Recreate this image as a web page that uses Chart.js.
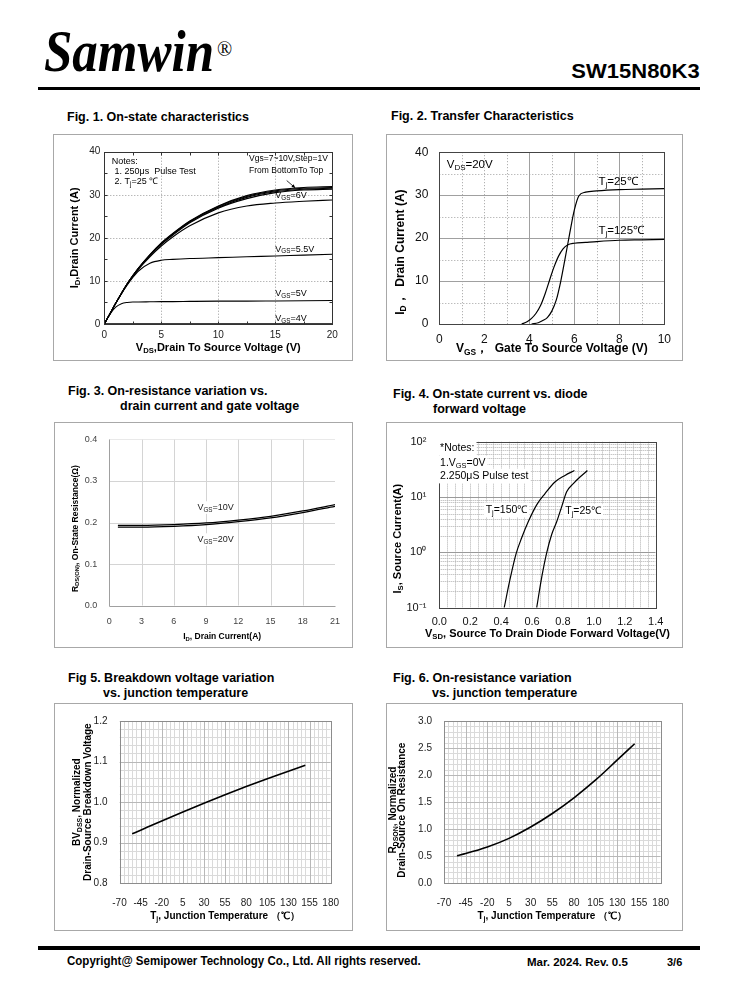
<!DOCTYPE html>
<html><head><meta charset="utf-8">
<script src="https://cdn.jsdelivr.net/npm/chart.js@4.4.0/dist/chart.umd.min.js"></script>
<style>
html,body{margin:0;padding:0;background:#fff;}
#page{position:relative;width:738px;height:1000px;overflow:hidden;font-family:"Liberation Sans",Arial,sans-serif;color:#000;background:#fff;}
.abs{position:absolute;white-space:nowrap;}
.ft{font-weight:bold;font-size:12.5px;line-height:15px;}
.frame{position:absolute;border:1px solid #a8a8a8;box-sizing:border-box;}
canvas{position:absolute;}
</style></head><body>
<div id="page">
  <div class="abs" style="left:44px;top:30px;font-family:'Liberation Serif','Times New Roman',serif;font-weight:bold;font-style:italic;font-size:51px;line-height:51px;transform:scale(1.0,1.16);transform-origin:0 100%;">Samwin</div>
  <div class="abs" style="left:217px;top:39px;font-family:'Liberation Serif','Times New Roman',serif;font-size:20px;line-height:20px;">®</div>
  <div class="abs" style="right:38px;top:60px;font-weight:bold;font-size:20px;line-height:22px;transform:scale(1.1,1.05);transform-origin:100% 50%;">SW15N80K3</div>
  <div class="abs" style="left:38px;top:87px;width:662px;height:3px;background:#000;"></div>

  <div class="abs ft" style="left:67px;top:110px;">Fig. 1. On-state characteristics</div>
  <div class="abs ft" style="left:391px;top:109px;">Fig. 2. Transfer Characteristics</div>
  <div class="abs ft" style="left:68px;top:384px;">Fig. 3. On-resistance variation vs.</div>
  <div class="abs ft" style="left:120px;top:399px;">drain current and gate voltage</div>
  <div class="abs ft" style="left:393px;top:387px;">Fig. 4. On-state current vs. diode</div>
  <div class="abs ft" style="left:433px;top:402px;">forward voltage</div>
  <div class="abs ft" style="left:68px;top:671px;">Fig 5. Breakdown voltage variation</div>
  <div class="abs ft" style="left:103px;top:686px;">vs. junction temperature</div>
  <div class="abs ft" style="left:393px;top:671px;">Fig. 6. On-resistance variation</div>
  <div class="abs ft" style="left:432px;top:686px;">vs. junction temperature</div>

  <div class="frame" style="left:53px;top:134px;width:300px;height:227px;"></div>
  <div class="frame" style="left:386px;top:134px;width:297px;height:227px;"></div>
  <div class="frame" style="left:54px;top:422px;width:299px;height:226px;"></div>
  <div class="frame" style="left:386px;top:422px;width:297px;height:226px;"></div>
  <div class="frame" style="left:54px;top:703px;width:299px;height:228px;"></div>
  <div class="frame" style="left:386px;top:703px;width:297px;height:228px;"></div>
  <canvas id="c1"></canvas><canvas id="c2"></canvas><canvas id="c3"></canvas>
  <canvas id="c4"></canvas><canvas id="c5"></canvas><canvas id="c6"></canvas>

  <div class="abs" style="left:38px;top:946px;width:662px;height:4px;background:#000;"></div>
  <div class="abs" style="left:67px;top:954px;font-weight:bold;font-size:12px;line-height:14px;transform:scaleX(0.96);transform-origin:0 50%;">Copyright@ Semipower Technology Co., Ltd. All rights reserved.</div>
  <div class="abs" style="left:527px;top:955px;font-weight:bold;font-size:11.5px;line-height:14px;">Mar. 2024. Rev. 0.5</div>
  <div class="abs" style="left:667px;top:955px;font-weight:bold;font-size:11px;line-height:14px;">3/6</div>
</div>
<script>
// ================= DATA =================
// Fig.1 On-state characteristics
const fig1_vds = [0,0.5,1,1.5,2,2.5,3,4,5,6,7.5,10,12.5,15,17.5,20];
const fig1_id_vgs10 = [0,2.4,4.8,7.1,9.3,11.2,13.0,16.1,18.8,21.0,23.9,27.4,29.8,31.1,31.7,31.9];
const fig1_id_vgs9  = [0,2.4,4.8,7.1,9.3,11.2,13.0,16.0,18.7,20.9,23.8,27.3,29.6,30.9,31.5,31.7];
const fig1_id_vgs8  = [0,2.4,4.8,7.1,9.3,11.2,12.9,16.0,18.6,20.8,23.7,27.1,29.4,30.7,31.3,31.5];
const fig1_id_vgs7  = [0,2.4,4.8,7.1,9.3,11.1,12.9,15.9,18.5,20.6,23.5,26.9,29.1,30.5,31.1,31.3];
const fig1_id_vgs6  = [0,2.4,4.8,7.1,9.2,11.0,12.7,15.6,18.1,20.2,22.8,25.8,27.4,28.1,28.5,28.8];
const fig1_id_vgs55 = [0,2.4,4.8,7.0,9.0,10.8,12.3,14.1,14.8,15.0,15.2,15.4,15.6,15.8,16.0,16.2];
const fig1_id_vgs5  = [0,2.3,3.9,4.7,5.0,5.1,5.1,5.15,5.2,5.2,5.25,5.3,5.3,5.35,5.4,5.45];
const fig1_id_vgs4  = [0,0.05,0.05,0.05,0.05,0.05,0.05,0.05,0.05,0.05,0.05,0.05,0.05,0.05,0.05,0.05];
const fig1_xticks = [0,5,10,15,20];
const fig1_xlabels = ['0','5','10','15','20'];
const fig1_yticks = [0,10,20,30,40];
const fig1_ylabels = ['0','10','20','30','40'];

// Fig.2 Transfer characteristics
const fig2_vgs_t25 = [4.1,4.4,4.6,4.8,5.0,5.2,5.4,5.6,5.8,6.0,6.2,6.5,7,8,9,10];
const fig2_id_t25  = [0,0.3,0.8,1.5,3.0,5.6,10.0,15.5,21.2,26.5,29.8,30.7,31.0,31.3,31.4,31.5];
const fig2_vgs_t125 = [3.66,3.9,4.1,4.3,4.5,4.7,4.9,5.1,5.3,5.5,5.7,6.0,6.5,7,8,9,10];
const fig2_id_t125  = [0,0.5,1.3,2.5,4.3,7.0,10.2,13.3,15.8,17.5,18.4,18.8,19.0,19.2,19.5,19.6,19.7];
const fig2_xticks = [0,2,4,6,8,10];
const fig2_xlabels = ['0','2','4','6','8','10'];
const fig2_yticks = [0,10,20,30,40];
const fig2_ylabels = ['0','10','20','30','40'];

// Fig.3 On-resistance vs drain current
const fig3_id = [0.8,3,6,9,12,15,18,21];
const fig3_r_vgs10 = [0.193,0.193,0.195,0.199,0.206,0.215,0.228,0.243];
const fig3_r_vgs20 = [0.189,0.189,0.191,0.195,0.202,0.211,0.224,0.239];
const fig3_xticks = [0,3,6,9,12,15,18,21];
const fig3_xlabels = ['0','3','6','9','12','15','18','21'];
const fig3_yticks = [0,0.1,0.2,0.3,0.4];
const fig3_ylabels = ['0.0','0.1','0.2','0.3','0.4'];

// Fig.4 Body diode forward voltage
const fig4_vsd_t150 = [0.42,0.456,0.496,0.533,0.576,0.63,0.684,0.748,0.813,0.874];
const fig4_is_t150  = [0.1,0.31,0.93,1.83,3.6,7.2,11.5,18.6,24.5,30];
const fig4_vsd_t25  = [0.63,0.663,0.695,0.727,0.76,0.792,0.824,0.867,0.91,0.958];
const fig4_is_t25   = [0.1,0.36,0.99,2.1,3.6,6.7,12.4,17.4,22.9,30];
const fig4_xticks = [0,0.2,0.4,0.6,0.8,1.0,1.2,1.4];
const fig4_xlabels = ['0.0','0.2','0.4','0.6','0.8','1.0','1.2','1.4'];
const fig4_yticks = [0.1,1,10,100];
const fig4_ylabels = ['10\u207B\u00B9','10\u2070','10\u00B9','10\u00B2'];

// Fig.5 / Fig.6 vs junction temperature
const fig56_tj = [-55,-45,-20,5,30,55,80,105,130,150];
const fig5_bv = [0.922,0.931,0.9535,0.9757,0.9972,1.0182,1.0384,1.0577,1.076,1.091];
const fig6_r  = [0.51,0.55,0.67,0.83,1.04,1.29,1.58,1.91,2.28,2.58];
const fig56_xticks = [-70,-45,-20,5,30,55,80,105,130,155,180];
const fig56_xlabels = ['-70','-45','-20','5','30','55','80','105','130','155','180'];
const fig5_yticks = [0.8,0.9,1.0,1.1,1.2];
const fig5_ylabels = ['0.8','0.9','1.0','1.1','1.2'];
const fig6_yticks = [0,0.5,1.0,1.5,2.0,2.5,3.0];
const fig6_ylabels = ['0.0','0.5','1.0','1.5','2.0','2.5','3.0'];

// ================= HELPERS =================
const FONT = '"Liberation Sans", Arial, sans-serif';
function steps(a,b,s){const o=[];for(let v=a;v<=b+1e-9;v+=s)o.push(+v.toFixed(6));return o;}
function parseRich(s){const out=[];const re=/([_^])\{([^}]*)\}/g;let last=0,m;
  while((m=re.exec(s))){if(m.index>last)out.push({t:s.slice(last,m.index),m:0});out.push({t:m[2],m:m[1]==='_'?1:2});last=re.lastIndex;}
  if(last<s.length)out.push({t:s.slice(last),m:0});return out;}
function drawRich(ctx,s,x,y,size,weight,align,rot,color,bg){
  const segs=parseRich(s);
  const f=m=>`${weight} ${m?Math.round(size*0.7*10)/10:size}px ${FONT}`;
  let w=0;segs.forEach(g=>{ctx.font=f(g.m);g.w=ctx.measureText(g.t).width;w+=g.w;});
  ctx.save();ctx.translate(x,y);if(rot)ctx.rotate(rot);
  let sx=align==='center'?-w/2:align==='right'?-w:0;
  if(bg){ctx.fillStyle=bg;ctx.fillRect(sx-2,-size*0.7,w+4,size*1.4);}
  ctx.fillStyle=color;ctx.textBaseline='middle';ctx.textAlign='left';
  segs.forEach(g=>{ctx.font=f(g.m);const dy=g.m===1?size*0.28:g.m===2?-size*0.35:0;ctx.fillText(g.t,sx,dy);sx+=g.w;});
  ctx.restore();}

const deco={id:'deco',
  beforeDatasetsDraw(chart,args,o){
    const {ctx,chartArea:a}=chart;ctx.save();
    ctx.beginPath();ctx.rect(a.left,a.top,a.width,a.height);ctx.clip();
    for(const g of (o.grid||[])){const sc=chart.scales[g.axis];
      ctx.strokeStyle=g.color;ctx.lineWidth=g.width||1;ctx.setLineDash(g.dash||[]);
      for(const v of g.values){const p=Math.round(sc.getPixelForValue(v))+0.5;ctx.beginPath();
        if(g.axis==='x'){ctx.moveTo(p,a.top);ctx.lineTo(p,a.bottom);}else{ctx.moveTo(a.left,p);ctx.lineTo(a.right,p);}
        ctx.stroke();}}
    ctx.restore();},
  afterDatasetsDraw(chart,args,o){
    const {ctx,chartArea:a}=chart;ctx.save();ctx.setLineDash([]);
    const L=Math.round(a.left)+0.5,R=Math.round(a.right)+0.5,T=Math.round(a.top)+0.5,B=Math.round(a.bottom)+0.5;
    for(const t of (o.tickMarks||[])){const sc=chart.scales[t.axis];ctx.strokeStyle=t.color||'#333';ctx.lineWidth=1;
      for(const v of t.values){const p=Math.round(sc.getPixelForValue(v))+0.5;ctx.beginPath();
        if(t.axis==='x'){ctx.moveTo(p,T);ctx.lineTo(p,T+t.len);ctx.moveTo(p,B);ctx.lineTo(p,B-t.len);}
        else{ctx.moveTo(L,p);ctx.lineTo(L+t.len,p);ctx.moveTo(R,p);ctx.lineTo(R-t.len,p);}
        ctx.stroke();}}
    if(o.border){ctx.strokeStyle=o.border.color;ctx.lineWidth=1;
      if(o.border.sides==='lb'){ctx.beginPath();ctx.moveTo(L,T);ctx.lineTo(L,B);ctx.lineTo(R,B);ctx.stroke();}
      else ctx.strokeRect(L,T,R-L,B-T);}
    for(const ar of (o.arrows||[])){const x=chart.scales.x,y=chart.scales.y;
      const x1=x.getPixelForValue(ar.from[0]),y1=y.getPixelForValue(ar.from[1]),x2=x.getPixelForValue(ar.to[0]),y2=y.getPixelForValue(ar.to[1]);
      ctx.strokeStyle='#000';ctx.fillStyle='#000';ctx.lineWidth=0.8;ctx.beginPath();ctx.moveTo(x1,y1);ctx.lineTo(x2,y2);ctx.stroke();
      const an=Math.atan2(y2-y1,x2-x1),h=4;ctx.beginPath();ctx.moveTo(x2,y2);
      ctx.lineTo(x2-h*Math.cos(an-0.45),y2-h*Math.sin(an-0.45));ctx.lineTo(x2-h*Math.cos(an+0.45),y2-h*Math.sin(an+0.45));ctx.closePath();ctx.fill();}
    for(const l of (o.labels||[])){const px=chart.scales.x.getPixelForValue(l.x),py=chart.scales.y.getPixelForValue(l.y);
      drawRich(ctx,l.text,px,py,l.size,l.weight||'normal',l.align||'left',0,l.color||'#000',l.bg);}
    for(const t of (o.xTitle||[])){drawRich(ctx,t.text,(a.left+a.right)/2+(t.off||0),a.bottom+t.d,t.size,'bold','center',0,'#000');}
    for(const t of (o.yTitle||[])){drawRich(ctx,t.text,a.left-t.d,(a.top+a.bottom)/2+(t.off||0),t.size,'bold','center',-Math.PI/2,'#000');}
    ctx.restore();}
};

function pts(xs,ys){return xs.map((v,i)=>({x:v,y:ys[i]}));}
function ds(xs,ys,w,extra){return Object.assign({data:pts(xs,ys),borderColor:'#000',borderWidth:w,pointRadius:0,fill:false,cubicInterpolationMode:'monotone'},extra||{});}

function build(id,frame,plot,s){
  const cv=document.getElementById(id);
  cv.width=frame.w;cv.height=frame.h;cv.style.left=frame.x+'px';cv.style.top=frame.y+'px';
  const padTop=plot.t-frame.y,padRight=frame.x+frame.w-plot.r,yW=plot.l-frame.x,xH=frame.y+frame.h-plot.b;
  const axis=(type,min,max,tv,tl,font,pad,color,fit)=>({type,min,max,
    afterBuildTicks:ax=>{ax.ticks=tv.map(v=>({value:v}));},
    afterFit:fit,
    grid:{display:false,drawTicks:false,drawOnChartArea:false},border:{display:false},
    ticks:{autoSkip:false,maxRotation:0,minRotation:0,padding:pad,color,font:{family:FONT,size:font},
      callback:(v)=>{const i=tv.findIndex(t=>Math.abs(t-v)<1e-9);return i>=0?tl[i]:'';}}});
  return new Chart(cv,{type:'line',data:{datasets:s.datasets},
    options:{responsive:false,animation:false,devicePixelRatio:1,events:[],
      layout:{padding:{left:0,top:padTop,right:padRight,bottom:0}},
      plugins:{legend:{display:false},tooltip:{enabled:false},deco:s.deco},
      scales:{
        x:axis('linear',s.x.min,s.x.max,s.x.ticks,s.x.labels,s.x.font,s.x.pad,s.x.color||'#222',ax=>{ax.height=xH;}),
        y:axis(s.y.type||'linear',s.y.min,s.y.max,s.y.ticks,s.y.labels,s.y.font,s.y.pad,s.y.color||'#222',ax=>{ax.width=yW;})
      }},
    plugins:[deco]});
}

// ================= FIG 1 =================
build('c1',{x:53,y:134,w:300,h:227},{l:104.3,r:332.3,t:151.7,b:324},{
  datasets:[ds(fig1_vds,fig1_id_vgs4,1.1),ds(fig1_vds,fig1_id_vgs5,1.1),ds(fig1_vds,fig1_id_vgs55,1.1),ds(fig1_vds,fig1_id_vgs6,1.1),
    ds(fig1_vds,fig1_id_vgs7,1.1),ds(fig1_vds,fig1_id_vgs8,1.1),ds(fig1_vds,fig1_id_vgs9,1.1),ds(fig1_vds,fig1_id_vgs10,1.1)],
  x:{min:0,max:20,ticks:fig1_xticks,labels:fig1_xlabels,font:10,pad:5,color:'#222'},
  y:{min:0,max:40,ticks:fig1_yticks,labels:fig1_ylabels,font:10,pad:4,color:'#222'},
  deco:{
    grid:[{axis:'x',values:[5,10,15],color:'#9a9a9a',dash:[1,2]},{axis:'y',values:[10,20,30],color:'#9a9a9a',dash:[1,2]}],
    tickMarks:[{axis:'x',values:steps(2.5,17.5,2.5),len:3},{axis:'y',values:steps(5,35,5),len:3}],
    border:{color:'#333'},
    arrows:[{from:[16.0,33.3],to:[16.75,31.6]}],
    labels:[
      {x:0.65,y:37.7,text:'Notes:',size:9},
      {x:0.9,y:35.3,text:'1. 250μs  Pulse Test',size:9},
      {x:0.9,y:33.0,text:'2. T_{j}=25 ℃',size:9},
      {x:12.7,y:38.3,text:'Vgs=7~10V,Step=1V',size:8.5},
      {x:12.7,y:35.7,text:'From BottomTo Top',size:8.5},
      {x:15.0,y:29.8,text:'V_{GS}=6V',size:9},
      {x:15.0,y:17.4,text:'V_{GS}=5.5V',size:9},
      {x:15.0,y:7.0,text:'V_{GS}=5V',size:9},
      {x:15.0,y:1.2,text:'V_{GS}=4V',size:9}],
    xTitle:[{text:'V_{DS},Drain To Source Voltage (V)',d:24,size:11}],
    yTitle:[{text:'I_{D},Drain Current (A)',d:29,size:11}]
  }});

// ================= FIG 2 =================
build('c2',{x:386,y:134,w:297,h:227},{l:439.3,r:664.3,t:150.7,b:324},{
  datasets:[ds(fig2_vgs_t25,fig2_id_t25,1.2),ds(fig2_vgs_t125,fig2_id_t125,1.2)],
  x:{min:0,max:10,ticks:fig2_xticks,labels:fig2_xlabels,font:12,pad:8,color:'#111'},
  y:{min:0,max:40,ticks:fig2_yticks,labels:fig2_ylabels,font:12,pad:11,color:'#111'},
  deco:{
    grid:[{axis:'x',values:[4,6,8],color:'#a0a0a0'},{axis:'x',values:[1,2,3,5,7,9],color:'#a0a0a0',dash:[1,2]},
      {axis:'y',values:[10,20,30],color:'#a0a0a0'},{axis:'y',values:[5,15,25,35],color:'#a0a0a0',dash:[1,2]}],
    border:{color:'#444'},
    labels:[
      {x:0.33,y:37.1,text:'V_{DS}=20V',size:11.5},
      {x:7.07,y:33.1,text:'T_{j}=25℃',size:11.5},
      {x:7.07,y:21.7,text:'T_{j}=125℃',size:11.5}],
    xTitle:[{text:'V_{GS}，  Gate To Source Voltage (V)',d:25,size:12}],
    yTitle:[{text:'I_{D}，  Drain Current (A)',d:39,size:12,off:14}]
  }});

// ================= FIG 3 =================
build('c3',{x:54,y:422,w:299,h:226},{l:109.3,r:335,t:439,b:605.7},{
  datasets:[ds(fig3_id,fig3_r_vgs10,1.3),ds(fig3_id,fig3_r_vgs20,1.3)],
  x:{min:0,max:21,ticks:fig3_xticks,labels:fig3_xlabels,font:9,pad:10,color:'#444'},
  y:{min:0,max:0.4,ticks:fig3_yticks,labels:fig3_ylabels,font:9,pad:12,color:'#444'},
  deco:{
    grid:[{axis:'x',values:fig3_xticks,color:'#d4d4d4'},{axis:'y',values:fig3_yticks,color:'#d4d4d4'}],
    border:{color:'#a0a0a0',sides:'lb'},
    labels:[
      {x:8.2,y:0.236,text:'V_{GS}=10V',size:9,color:'#222',bg:'#fff'},
      {x:8.2,y:0.159,text:'V_{GS}=20V',size:9,color:'#222',bg:'#fff'}],
    xTitle:[{text:'I_{D}, Drain Current(A)',d:31,size:8.5}],
    yTitle:[{text:'R_{DS(ON)}, On-State Resistance(Ω)',d:34,size:8.5,off:6}]
  }});

// ================= FIG 4 =================
const fig4_minor=[];[0.1,1,10].forEach(d=>{for(let k=2;k<=9;k++)fig4_minor.push(+(d*k).toFixed(6));});
build('c4',{x:386,y:422,w:297,h:226},{l:439.3,r:655.7,t:439,b:607.7},{
  datasets:[ds(fig4_vsd_t150,fig4_is_t150,1.2),ds(fig4_vsd_t25,fig4_is_t25,1.2)],
  x:{min:0,max:1.4,ticks:fig4_xticks,labels:fig4_xlabels,font:11,pad:8,color:'#111'},
  y:{type:'logarithmic',min:0.1,max:100,ticks:fig4_yticks,labels:fig4_ylabels,font:11,pad:13,color:'#111'},
  deco:{
    grid:[{axis:'x',values:steps(0.05,1.35,0.05),color:'#b0b0b0',dash:[1,1]},
      {axis:'y',values:fig4_minor,color:'#b0b0b0',dash:[1,1]},
      {axis:'y',values:[1,10],color:'#9a9a9a'}],
    border:{color:'#444'},
    labels:[
      {x:0.005,y:75,text:'*Notes:',size:10.5,bg:'#fff'},
      {x:0.005,y:41,text:'1.V_{GS}=0V',size:10.5,bg:'#fff'},
      {x:0.005,y:23.9,text:'2.250μS Pulse test',size:10.5,bg:'#fff'},
      {x:0.30,y:5.86,text:'T_{j}=150℃',size:10.5,bg:'#fff'},
      {x:0.815,y:5.46,text:'T_{j}=25℃',size:10.5,bg:'#fff'}],
    xTitle:[{text:'V_{SD}, Source To Drain Diode Forward Voltage(V)',d:26,size:11}],
    yTitle:[{text:'I_{S}, Source Current(A)',d:41.6,size:11,off:14}]
  }});

// ================= FIG 5 =================
const majX=fig56_xticks, minX=steps(-65,175,5);
build('c5',{x:54,y:703,w:299,h:228},{l:119.5,r:336.5,t:719.5,b:883.3},{
  datasets:[ds(fig56_tj,fig5_bv,1.6)],
  x:{min:-70,max:180,ticks:fig56_xticks,labels:fig56_xlabels,font:10,pad:14,color:'#222'},
  y:{min:0.8,max:1.2,ticks:fig5_yticks,labels:fig5_ylabels,font:10,pad:12,color:'#222'},
  deco:{
    grid:[{axis:'x',values:minX,color:'#dadada'},{axis:'y',values:steps(0.82,1.18,0.02),color:'#dadada'},
      {axis:'x',values:majX,color:'#b8b8b8'},{axis:'y',values:fig5_yticks,color:'#b8b8b8'}],
    border:{color:'#8c8c8c'},
    xTitle:[{text:'T_{j}, Junction Temperature （℃）',d:33,size:10}],
    yTitle:[{text:'BV_{DSS}, Normalized',d:42,size:10,off:0},{text:'Drain-Source Breakdown Voltage',d:31.5,size:10,off:0}]
  }});

// ================= FIG 6 =================
build('c6',{x:386,y:703,w:297,h:228},{l:444,r:668.3,t:716.7,b:883.3},{
  datasets:[ds(fig56_tj,fig6_r,1.6)],
  x:{min:-70,max:180,ticks:fig56_xticks,labels:fig56_xlabels,font:10,pad:14,color:'#222'},
  y:{min:0,max:3,ticks:fig6_yticks,labels:fig6_ylabels,font:10,pad:12,color:'#222'},
  deco:{
    grid:[{axis:'x',values:minX,color:'#dadada'},{axis:'y',values:steps(0.1,2.9,0.1),color:'#dadada'},
      {axis:'x',values:majX,color:'#b8b8b8'},{axis:'y',values:fig6_yticks,color:'#b8b8b8'}],
    border:{color:'#8c8c8c'},
    xTitle:[{text:'T_{j}, Junction Temperature （℃）',d:33,size:10}],
    yTitle:[{text:'R_{DSON}, Normalized',d:51,size:10,off:8},{text:'Drain-Source On Resistance',d:41.5,size:10,off:8}]
  }});
</script>
</body></html>
